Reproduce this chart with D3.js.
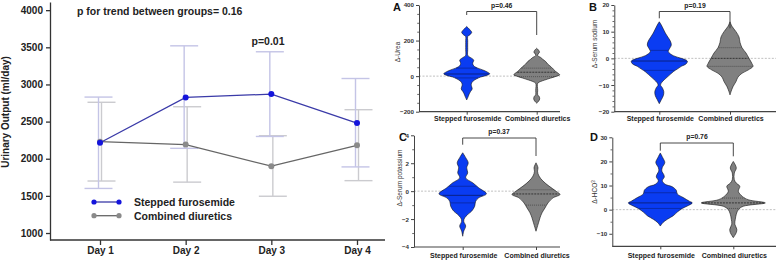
<!DOCTYPE html>
<html><head><meta charset="utf-8">
<script src="https://cdn.jsdelivr.net/npm/d3@7"></script>
<style>
body{margin:0;background:#fff}
svg{display:block}
text{font-family:"Liberation Sans",Arial,Helvetica,sans-serif}
</style>
</head><body>
<svg id="c" width="777" height="260"></svg>
<script>
// ---------- Left chart data ----------
const days = ["Day 1", "Day 2", "Day 3", "Day 4"];
const steppedMean = [2215, 2825, 2870, 2480];
const steppedLow  = [1600, 2140, 2300, 1890];
const steppedHigh = [2830, 3520, 3440, 3080];
const combinedMean = [2230, 2190, 1900, 2180];
const combinedLow  = [1700, 1685, 1495, 1705];
const combinedHigh = [2760, 2700, 2310, 2660];
const leftYTicks = [1000, 1500, 2000, 2500, 3000, 3500, 4000];
const seriesNames = ["Stepped furosemide", "Combined diuretics"];

// ---------- Right panels data ----------
const groups = ["Stepped furosemide", "Combined diuretics"];
const panelLetters = ["A", "B", "C", "D"];
const panelTitles = ["Δ-Urea", "Δ-Serum sodium", "Δ-Serum potassium", "Δ-HCO"];
const pValues = ["p=0.46", "p=0.19", "p=0.37", "p=0.76"];
const ticksA = [-200, 0, 200, 400];
const ticksB = [-20, -10, 0, 10, 20];
const ticksC = [-4, -2, 0, 2, 4];
const ticksD = [-10, 0, 10, 20, 30];
// violin profiles: [value, relative half-width]
const ureaStepped = [[279,0],[262,3],[246,5],[232,3],[223,1],[200,1],[150,1],[115,1.2],[104,4],[90,7],[72,6],[58,7],[45,11],[35,16],[22,21],[13,23],[4,20],[-5,14],[-15,10],[-30,6],[-45,4.5],[-60,5],[-72,5.5],[-85,4],[-100,2.5],[-115,1.5],[-134,0]];
const ureaCombined = [[157,0],[145,2],[135,2.8],[125,1.5],[115,1],[105,4],[95,6],[82,9],[68,11],[54,14],[40,16.5],[26,19],[14,22],[7,23],[0,20],[-11,14],[-22,8],[-30,4],[-40,1],[-80,1],[-105,1],[-115,2.5],[-128,3],[-140,2],[-152,0]];
const sodiumStepped = [[13.7,0],[12.5,2],[11,4],[9.5,6],[8,8.5],[6.5,11],[5,12],[3.5,10],[2.5,9],[1,14],[0,22],[-1,28],[-2,27],[-3,22],[-4,18],[-5,14],[-6,11],[-7,8],[-8,5],[-9,2.5],[-10,1.2],[-11,3],[-12.5,4.5],[-14,4],[-15.5,2],[-17,0]];
const sodiumCombined = [[13.7,0],[12,2],[10,6],[8,9],[6,10],[4,12],[2,16],[0,19],[-2,22],[-3,23],[-4.4,18],[-5.6,12],[-7,8],[-8.7,6],[-10.6,3],[-12.5,1],[-13.7,0]];
const potassiumStepped = [[2.75,0],[2.4,3],[2.03,5.5],[1.67,4],[1.31,5],[0.95,3],[0.6,10],[0.24,16],[-0.19,23.7],[-0.48,16],[-0.72,13],[-1.08,12],[-1.43,9],[-1.67,5],[-1.91,2],[-2.15,1],[-2.5,3],[-2.87,1],[-3.23,0]];
const potassiumCombined = [[2.03,0],[1.67,2],[1.43,1.5],[1.08,3],[0.72,7],[0.36,13],[0,20],[-0.24,24],[-0.48,17],[-0.84,12],[-1.2,9],[-1.55,6],[-1.91,4],[-2.27,2.5],[-2.63,1],[-2.87,0]];
const hco3Stepped = [[23.5,0],[21.5,2.5],[19.5,4.5],[17.5,2],[16,1.5],[14.5,3.5],[13.5,4],[12,2],[10.5,5],[9.5,12],[8,16],[6.5,17],[5,23],[3.5,29],[2.8,32],[1.5,27],[0.5,22],[-1,17],[-2.5,13],[-4,7],[-5.4,2.5],[-6.8,0]];
const hco3Combined = [[20,0],[17.3,3],[15.2,1],[12.4,1],[11,3],[9.7,6.5],[7.6,5],[5.5,9],[4.1,15],[2.8,32],[1.4,10],[0,5],[-1.9,3],[-4,2],[-6,1.5],[-8.1,3.5],[-9.5,3],[-11.6,0]];
const ureaQuart = [[-10, 12, 45], [-3, 22, 45]];
const sodiumQuart = [[-4.5, -1, 3], [-3, 0, 4]];
const potassiumQuart = [[-0.84, -0.3, 0.35], [-1, -0.2, 0.1]];
const hco3Quart = [[0.5, 2.8, 7], [0.5, 2.8, 4.8]];

const svg = d3.select("#c");
const FONT = '"Liberation Sans",Arial,sans-serif';
const fmt = v => String(v).replace("-", "-");

// ================= LEFT CHART =================
const yL = d3.scaleLinear().domain([906, 4110]).range([240, 2]);
const xL = d3.scalePoint().domain(days).range([100, 357]);

const yAx = svg.append("g").attr("transform", "translate(50,0)")
  .call(d3.axisLeft(yL).tickValues(leftYTicks).tickFormat(d3.format("d")).tickSize(4).tickSizeOuter(0).tickPadding(3));
yAx.selectAll("path,line").attr("stroke", "#333").attr("stroke-width", 1.3);
yAx.selectAll("text").attr("font-size", 10).attr("font-weight", "bold").attr("fill", "#222").attr("font-family", FONT);

const xAx = svg.append("g").attr("transform", "translate(0,240)")
  .call(d3.axisBottom(xL).tickSize(5).tickSizeOuter(0).tickPadding(2));
xAx.select(".domain").remove();
xAx.selectAll("line").attr("stroke", "#333").attr("stroke-width", 1.3);
xAx.selectAll("text").attr("font-size", 10).attr("font-weight", "bold").attr("fill", "#222").attr("font-family", FONT);
svg.append("line").attr("x1", 50).attr("x2", 385).attr("y1", 240).attr("y2", 240)
  .attr("stroke", "#333").attr("stroke-width", 1.3);

svg.append("text").attr("transform", "translate(9,112) rotate(-90)")
  .attr("text-anchor", "middle").attr("font-size", 10).attr("font-weight", "bold").attr("fill", "#222")
  .text("Urinary Output (ml/day)");

const series = [
  {name: seriesNames[0], mean: steppedMean, low: steppedLow, high: steppedHigh, err: "#c4c4e6", line: "#3a3aa8", pt: "#1414dc", off: -1.5},
  {name: seriesNames[1], mean: combinedMean, low: combinedLow, high: combinedHigh, err: "#cbcbcf", line: "#666", pt: "#8a8a8a", off: 1.5}
];
// error bars
series.slice().reverse().forEach(s => {
  const g = svg.append("g");
  days.forEach((d, i) => {
    const x = xL(d) + s.off;
    g.append("line").attr("x1", x).attr("x2", x).attr("y1", yL(s.low[i])).attr("y2", yL(s.high[i]))
      .attr("stroke", s.err).attr("stroke-width", 1.4);
    [s.low[i], s.high[i]].forEach(v => {
      g.append("line").attr("x1", x - 14).attr("x2", x + 14).attr("y1", yL(v)).attr("y2", yL(v))
        .attr("stroke", s.err).attr("stroke-width", 1.4);
    });
  });
});
// lines & points
series.slice().reverse().forEach(s => {
  const line = d3.line().x((v, i) => xL(days[i])).y(v => yL(v));
  svg.append("path").attr("d", line(s.mean)).attr("fill", "none").attr("stroke", s.line).attr("stroke-width", 1.3);
  svg.selectAll(null).data(s.mean).enter().append("circle")
    .attr("cx", (v, i) => xL(days[i])).attr("cy", v => yL(v)).attr("r", 3).attr("fill", s.pt);
});

svg.append("text").attr("x", 77).attr("y", 15).attr("font-size", 10.5).attr("font-weight", "bold").attr("fill", "#222")
  .text("p for trend between groups= 0.16");
svg.append("text").attr("x", 268).attr("y", 44.5).attr("text-anchor", "middle").attr("font-size", 10.5).attr("font-weight", "bold").attr("fill", "#222")
  .text("p=0.01");

// legend
series.forEach((s, i) => {
  const y = 202 + i * 13.7;
  svg.append("line").attr("x1", 94).attr("x2", 119).attr("y1", y).attr("y2", y).attr("stroke", s.line).attr("stroke-width", 1.3);
  [94, 119].forEach(x => svg.append("circle").attr("cx", x).attr("cy", y).attr("r", 2.6).attr("fill", s.pt));
  svg.append("text").attr("x", 134).attr("y", y + 3.8).attr("font-size", 10.5).attr("font-weight", "bold").attr("fill", "#222").text(s.name);
});

// ================= RIGHT PANELS =================
const panels = [
  {letter: panelLetters[0], title: panelTitles[0], p: pValues[0], ticks: ticksA, minor: 50, dom: [-200, 400], prof: [ureaStepped, ureaCombined], q: ureaQuart,
   ax: 419, yr: [111.7, 5], xEnd: 560, cats: [466.7, 536.7], labY: 121, let: [393, 10.5], tt: [397.5, 52], pt: [501.7, 8], br: 11.5, legs: [15, 35]},
  {letter: panelLetters[1], title: panelTitles[1], p: pValues[1], ticks: ticksB, minor: 2, dom: [-20, 20], prof: [sodiumStepped, sodiumCombined], q: sodiumQuart,
   ax: 614.3, yr: [111.7, 5], xEnd: 776, cats: [659.3, 730], labY: 121, let: [589, 10.5], tt: [594.5, 44], pt: [695, 8], br: 11.5, legs: [18.3, 28.3]},
  {letter: panelLetters[2], title: panelTitles[2], p: pValues[2], ticks: ticksC, minor: 1, dom: [-4, 4], prof: [potassiumStepped, potassiumCombined], q: potassiumQuart,
   ax: 414, yr: [247, 135.3], xEnd: 560, cats: [462.7, 536], labY: 258, let: [399, 141], tt: [400, 178], pt: [499, 134], br: 138, legs: [144.7, 156]},
  {letter: panelLetters[3], title: panelTitles[3], p: pValues[3], ticks: ticksD, minor: 5, dom: [-15.2, 30], prof: [hco3Stepped, hco3Combined], q: hco3Quart,
   ax: 612.3, yr: [246.3, 137.3], xEnd: 776, cats: [660.3, 733.3], labY: 257.5, let: [590, 141], tt: [594.5, 192], pt: [697, 139], br: 143, legs: [150.7, 156.3]}
];
const fills = ["#0a3cf2", "#808080"];
const wScale = d3.scaleLinear().domain([0, 32]).range([0, 32]);

function widthAt(prof, v) {
  for (let i = 0; i < prof.length - 1; i++) {
    const a = prof[i], b = prof[i + 1];
    if (v <= a[0] && v >= b[0]) {
      const t = (a[0] - v) / (a[0] - b[0]);
      return a[1] + t * (b[1] - a[1]);
    }
  }
  return 0;
}

panels.forEach(P => {
  const g = svg.append("g");
  const y = d3.scaleLinear().domain(P.dom).range(P.yr);
  const x = d3.scalePoint().domain(groups).range(P.cats);
  // zero baseline
  g.append("line").attr("x1", P.ax).attr("x2", P.xEnd).attr("y1", y(0)).attr("y2", y(0))
    .attr("stroke", "#b0b0b0").attr("stroke-width", 0.8).attr("stroke-dasharray", "2,1.5");
  // violins
  groups.forEach((grp, gi) => {
    const cx = x(grp);
    const area = d3.area().curve(d3.curveCatmullRom.alpha(0.5))
      .y(d => y(d[0])).x0(d => cx - wScale(d[1])).x1(d => cx + wScale(d[1]));
    g.append("path").attr("d", area(P.prof[gi])).attr("fill", fills[gi])
      .attr("stroke", "#111").attr("stroke-width", 0.6);
    P.q[gi].forEach((qv, qi) => {
      const hw = wScale(widthAt(P.prof[gi], qv)) - 0.6;
      g.append("line").attr("x1", cx - hw).attr("x2", cx + hw).attr("y1", y(qv)).attr("y2", y(qv))
        .attr("stroke", gi === 0 ? "#0a1a6a" : "#222").attr("stroke-width", qi === 1 ? 0.8 : 0.5)
        .attr("stroke-dasharray", gi === 0 ? null : (qi === 1 ? "2,1" : "1,1"));
    });
  });
  // y axis
  const major = d3.axisLeft(y).tickValues(P.ticks).tickFormat(d3.format("d")).tickSize(3).tickPadding(2).tickSizeOuter(0);
  const minorVals = d3.range(P.ticks[0], P.ticks[P.ticks.length - 1] + 1e-9, P.minor)
    .filter(v => !P.ticks.some(t => Math.abs(t - v) < 1e-9));
  const ma = g.append("g").attr("transform", `translate(${P.ax},0)`).call(major);
  ma.selectAll("path,line").attr("stroke", "#444").attr("stroke-width", 1);
  ma.selectAll("text").attr("font-size", 6.2).attr("font-weight", "bold").attr("fill", "#333").attr("font-family", FONT);
  const mi = g.append("g").attr("transform", `translate(${P.ax},0)`)
    .call(d3.axisLeft(y).tickValues(minorVals).tickSize(1.8).tickFormat(""));
  mi.select(".domain").remove();
  mi.selectAll("line").attr("stroke", "#444").attr("stroke-width", 0.8);
  // x axis
  const bx = g.append("g").attr("transform", `translate(0,${P.yr[0]})`)
    .call(d3.axisBottom(x).tickSize(3).tickFormat(""));
  bx.select(".domain").remove();
  bx.selectAll("line").attr("stroke", "#444").attr("stroke-width", 1);
  g.append("line").attr("x1", P.ax).attr("x2", P.xEnd).attr("y1", P.yr[0]).attr("y2", P.yr[0])
    .attr("stroke", "#444").attr("stroke-width", 1.2);
  groups.forEach(grp => {
    g.append("text").attr("x", x(grp) + 1).attr("y", P.labY).attr("text-anchor", "middle")
      .attr("font-size", 7).attr("font-weight", "bold").attr("fill", "#222").text(grp);
  });
  // title
  const tt = g.append("text").attr("transform", `translate(${P.tt[0]},${P.tt[1]}) rotate(-90)`)
    .attr("text-anchor", "middle").attr("dy", "0.35em").attr("font-size", 6.5).attr("fill", "#333").text(P.title);
  if (P.letter === "D") tt.append("tspan").attr("dy", "-0.4em").attr("font-size", 4.5).text("3");
  // letter
  g.append("text").attr("x", P.let[0]).attr("y", P.let[1]).attr("font-size", 11).attr("font-weight", "bold").attr("fill", "#111").text(P.letter);
  // bracket + p
  const [xa, xb] = P.cats;
  g.append("path").attr("d", `M${xa},${P.legs[0]}V${P.br}H${xb}V${P.legs[1]}`)
    .attr("fill", "none").attr("stroke", "#333").attr("stroke-width", 0.9);
  g.append("text").attr("x", P.pt[0]).attr("y", P.pt[1]).attr("text-anchor", "middle")
    .attr("font-size", 6.8).attr("font-weight", "bold").attr("fill", "#222").text(P.p);
});
</script>
</body></html>
